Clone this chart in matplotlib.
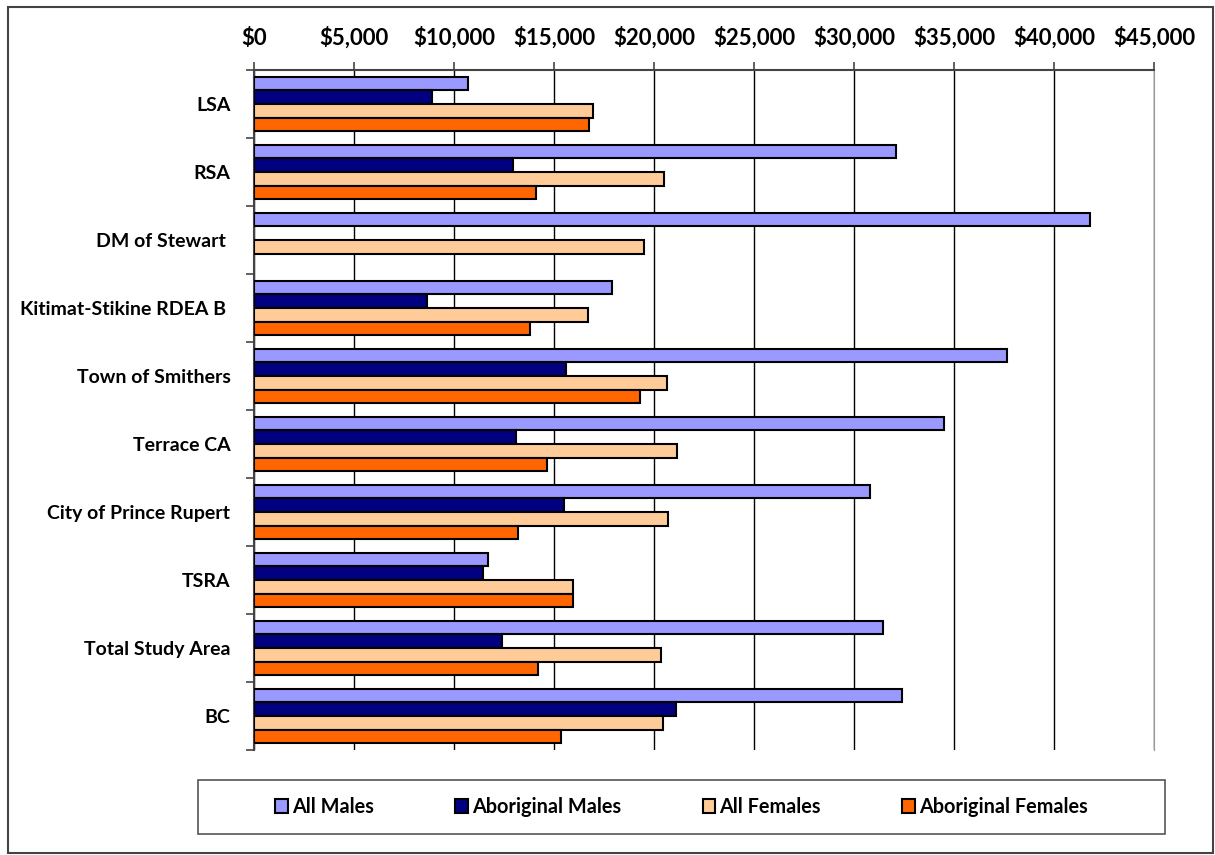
import numpy as np
import matplotlib.pyplot as plt
from matplotlib.patches import Rectangle
from matplotlib.ticker import FuncFormatter

# Données
regions = ['LSA', 'RSA', 'DM of Stewart ', 'Kitimat-Stikine RDEA B ', 'Town of Smithers',
           'Terrace CA', 'City of Prince Rupert', 'TSRA', 'Total Study Area', 'BC']
all_males = [10680, 32080, 41820, 17900, 37650, 34520, 30800, 11700, 31470, 32420]
abo_males = [8880, 12950, np.nan, 8650, 15600, 13120, 15500, 11430, 12400, 21080]
all_females = [16970, 20480, 19520, 16700, 20650, 21130, 20700, 15950, 20370, 20450]
abo_females = [16770, 14120, np.nan, 13800, 19280, 14630, 13200, 15950, 14220, 15350]

series = [('All Males', all_males, '#9999FF'),
          ('Aboriginal Males', abo_males, '#000080'),
          ('All Females', all_females, '#FFCC99'),
          ('Aboriginal Females', abo_females, '#FF6600')]

plt.rcParams['font.family'] = ['Lato', 'DejaVu Sans']
plt.rcParams['font.weight'] = 'bold'

fig = plt.figure(figsize=(12.15, 8.55), dpi=100)
ax = fig.add_axes([254 / 1215, 1 - 750 / 855, 900 / 1215, 680 / 855])

y = np.arange(len(regions))
h = 0.2
for k, (name, vals, col) in enumerate(series):
    ax.barh(y + (k - 1.5) * h, vals, height=h, color=col, edgecolor='black',
            linewidth=1.5, label=name, zorder=3)

ax.set_xlim(0, 45000)
ax.set_ylim(len(regions) - 0.5, -0.5)
ax.set_xticks(np.arange(0, 45001, 5000))
ax.xaxis.set_major_formatter(FuncFormatter(lambda v, p: '${:,.0f}'.format(v)))
ax.xaxis.tick_top()
ax.tick_params(axis='x', length=6, width=1.2, color='#444444', pad=9, labelsize=16)
ax.grid(axis='x', color='black', linewidth=1, zorder=0)

ax.set_yticks(y)
ax.set_yticklabels(regions)
ax.set_yticks(np.arange(-0.5, len(regions)), minor=True)
ax.tick_params(axis='y', which='major', length=0, pad=17, labelsize=14)
ax.tick_params(axis='y', which='minor', length=6, width=1.2, color='#444444')

for s in ['top', 'left']:
    ax.spines[s].set_color('#444444')
    ax.spines[s].set_linewidth(1.5)
ax.spines['bottom'].set_visible(False)
ax.spines['right'].set_color('#999999')

# Légende
leg = fig.legend(loc='center', ncol=4,
                 bbox_to_anchor=(198 / 1215, 1 - 834 / 855, 967 / 1215, 54 / 855),
                 fontsize=14.3, frameon=False, handlelength=0.65, handleheight=0.65,
                 handletextpad=0.2, columnspacing=4.1)
fig.add_artist(Rectangle((198 / 1215, 1 - 834 / 855), 967 / 1215, 54 / 855,
                         transform=fig.transFigure, fill=False, edgecolor='#555555', lw=1.2))
# cadre extérieur
fig.add_artist(Rectangle((8 / 1215, 2 / 855), 1205 / 1215, 846 / 855,
                         transform=fig.transFigure, fill=False, edgecolor='#444444', lw=1.5))

fig.savefig('out.png', dpi=100)
